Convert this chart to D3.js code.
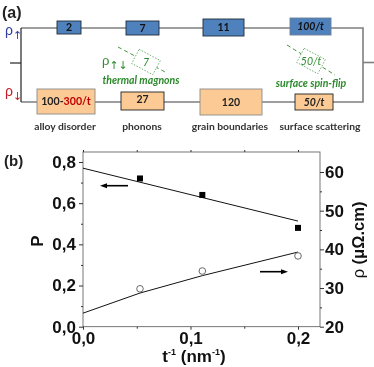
<!DOCTYPE html>
<html><head><meta charset="utf-8">
<script src="https://cdnjs.cloudflare.com/ajax/libs/d3/7.8.5/d3.min.js"></script>
<style>html,body{margin:0;padding:0;background:#fff}svg{display:block;filter:blur(0.3px)}</style></head>
<body><svg id="c" width="374" height="367"></svg>
<script>
// --- values of panel (b)
const pointsX = [0.053, 0.111, 0.2];
const polarisation = [0.72, 0.64, 0.48];
const resistivity = [29.8, 34.4, 38.3];
const polFitX = [0, 0.2];
const polFit = [0.77, 0.513];
const resFitX = [0, 0.053, 0.111, 0.2];
const resFit = [23.5, 28.7, 33.2, 39.3];
const xTicks = [0, 0.1, 0.2];
const pTicks = [0, 0.2, 0.4, 0.6, 0.8];
const rhoTicks = [20, 30, 40, 50, 60];
// --- labels of panel (a)
const upLabels = ["2", "7", "11", "100/t"];
const downLabels = ["27", "120", "50/t"];
const mechanisms = ["alloy disorder", "phonons", "grain boundaries", "surface scattering"];

const svg = d3.select("#c");
const SANS = "'Liberation Sans',Arial,sans-serif", CAL = "Lato,'Open Sans',sans-serif";
const GREEN = "#2c8a2c";

// ========== panel (b)
const x = d3.scaleLinear().domain([0, 0.2]).range([83, 298]);
const yP = d3.scaleLinear().domain([0, 0.8]).range([326.7, 162]);
const yR = d3.scaleLinear().domain([20, 60]).range([326.7, 172]);
const L = 83, R = 320, T = 152, B = 326.7;
svg.append("rect").attr("x", L).attr("y", T).attr("width", R - L).attr("height", B - T)
  .attr("fill", "none").attr("stroke", "#555").attr("stroke-width", 0.8);

const g = svg.append("g");
function ax(gen, tr) {
  const a = g.append("g").attr("transform", tr).call(gen);
  a.select(".domain").remove();
  a.selectAll("line").attr("stroke", "#333");
  a.selectAll("text").attr("font-family", SANS).attr("font-weight", 700).attr("font-size", 17).attr("fill", "#111");
  return a;
}
const comma = d => d.toFixed(1).replace(".", ",");
const xa = ax(d3.axisBottom(x).tickValues(xTicks).tickFormat(comma).tickSize(3).tickPadding(2), `translate(0,${B})`);
xa.selectAll("text").attr("dy", "0.72em");
ax(d3.axisBottom(x).tickValues([0.05, 0.15]).tickFormat("").tickSize(2), `translate(0,${B})`);
ax(d3.axisTop(x).tickValues([0, 0.05, 0.1, 0.15, 0.2]).tickFormat("").tickSize(2), `translate(0,${T})`);
ax(d3.axisLeft(yP).tickValues(pTicks).tickFormat(comma).tickSize(4).tickPadding(3), `translate(${L},0)`);
ax(d3.axisLeft(yP).tickValues([0.1, 0.3, 0.5, 0.7]).tickFormat("").tickSize(2), `translate(${L},0)`);
ax(d3.axisRight(yR).tickValues(rhoTicks).tickSize(4).tickPadding(1), `translate(${R},0)`);
ax(d3.axisRight(yR).tickValues([25, 35, 45, 55]).tickFormat("").tickSize(2), `translate(${R},0)`);

const line = (xs, ys, sc) => d3.line().x((d, i) => x(xs[i])).y(d => sc(d))(ys);
svg.append("path").attr("d", line(polFitX, polFit, yP)).attr("fill", "none").attr("stroke", "#111").attr("stroke-width", 1);
svg.append("path").attr("d", line(resFitX, resFit, yR)).attr("fill", "none").attr("stroke", "#111").attr("stroke-width", 1);
svg.selectAll(".sq").data(polarisation).join("rect")
  .attr("x", (d, i) => x(pointsX[i]) - 3).attr("y", d => yP(d) - 3).attr("width", 6).attr("height", 6).attr("fill", "#000");
svg.selectAll(".ci").data(resistivity).join("circle")
  .attr("cx", (d, i) => x(pointsX[i])).attr("cy", d => yR(d)).attr("r", 3.3)
  .attr("fill", "#fff").attr("stroke", "#444").attr("stroke-width", 0.8);

// arrows
function arrow(x1, x2, y) {
  const s = Math.sign(x2 - x1);
  svg.append("line").attr("x1", x1).attr("x2", x2 - s * 4).attr("y1", y).attr("y2", y).attr("stroke", "#000").attr("stroke-width", 1.6);
  svg.append("path").attr("d", `M${x2},${y}l${-s * 7},-2.5v5z`).attr("fill", "#000");
}
arrow(128, 100, 185.7);
arrow(260, 288, 271.7);

const t = (s, xp, yp, o = {}) => svg.append("text").attr("x", xp).attr("y", yp)
  .attr("text-anchor", o.a || "middle").attr("font-family", o.f || CAL).attr("font-weight", o.w || 700)
  .attr("font-style", o.i ? "italic" : "normal").attr("font-size", o.s || 9).attr("fill", o.c || "#222")
  .attr("transform", o.r ? `rotate(${o.r} ${xp} ${yp})` : null).text(s);

t("(a)", 2, 18, { a: "start", f: SANS, s: 16, c: "#222" });
t("(b)", 4, 166, { a: "start", f: SANS, s: 15, c: "#222" });
t("P", 43, 241, { f: SANS, s: 17, r: -90, c: "#111" });

const xl = svg.append("text").attr("x", 194).attr("y", 362).attr("text-anchor", "middle")
  .attr("font-family", SANS).attr("font-weight", 700).attr("font-size", 17).attr("fill", "#111");
xl.append("tspan").text("t");
xl.append("tspan").attr("font-size", 9).attr("dy", -7).text("-1");
xl.append("tspan").attr("dy", 7).text(" (nm");
xl.append("tspan").attr("font-size", 9).attr("dy", -7).text("-1");
xl.append("tspan").attr("dy", 7).text(")");

const yl = svg.append("text").attr("transform", "translate(364,240) rotate(-90)").attr("text-anchor", "middle")
  .attr("font-family", SANS).attr("font-size", 16.5).attr("fill", "#111");
yl.append("tspan").text("ρ ");
yl.append("tspan").attr("font-weight", 700).text("(μΩ.cm)");

// ========== panel (a)
const WIRE = "#7f7f7f";
const wire = (pts, w = 1.6, c = WIRE) => svg.append("path").attr("d", d3.line()(pts)).attr("fill", "none").attr("stroke", c).attr("stroke-width", w);
wire([[21, 28], [363, 28], [363, 102], [21, 102]]);
wire([[21, 28], [21, 102]], 1.2, "#222");
wire([[10, 63], [21, 63]], 1.2, "#222");
wire([[363, 62.5], [374, 62.5]]);

const upBoxes = [[57, 81, 21, 34], [126, 159, 21, 35], [203, 244, 19, 36], [290, 331, 18, 35]];
const downBoxes = [[121, 164, 92, 110], [200, 262, 89, 115], [295, 333, 94, 110]];

upLabels.forEach((s, i) => {
  const b = upBoxes[i];
  svg.append("rect").attr("x", b[0]).attr("y", b[2]).attr("width", b[1] - b[0]).attr("height", b[3] - b[2])
    .attr("fill", "#4f81bd").attr("stroke", i == 3 ? "#6a7f96" : "#1f2a38").attr("stroke-width", 0.9);
  t(s, (b[0] + b[1]) / 2, (b[2] + b[3]) / 2 + 3.5, { s: 10.5, i: i == 3, c: "#111" });
});
svg.append("rect").attr("x", 37).attr("y", 89).attr("width", 58).attr("height", 25)
  .attr("fill", "#fcca94").attr("stroke", "#8a8a8a").attr("stroke-width", 0.9);
const a1 = t("", 66, 105, { s: 10.6, c: "#222" });
a1.append("tspan").text("100-");
a1.append("tspan").attr("fill", "#c00000").text("300/t");
downLabels.forEach((s, i) => {
  const b = downBoxes[i];
  svg.append("rect").attr("x", b[0]).attr("y", b[2]).attr("width", b[1] - b[0]).attr("height", b[3] - b[2])
    .attr("fill", "#fcca94").attr("stroke", i == 1 ? "#8a8a8a" : "#222").attr("stroke-width", 0.9);
  t(s, (b[0] + b[1]) / 2, (b[2] + b[3]) / 2 + (i == 0 ? 1.5 : 3.5), { s: 10.5, i: i == 2, c: "#222" });
});
[65, 142, 230, 320].forEach((cx, i) => t(mechanisms[i], cx, 130, { s: 10.3, c: "#333" }));

// spin-mixing resistors
function mix(cx, cy, label, x1, y1, x2, y2, ang) {
  wire([[x1, y1], [x2, y2]], 0.9, GREEN).attr("stroke-dasharray", "4 3");
  svg.append("rect").attr("x", cx - 12).attr("y", cy - 8).attr("width", 24).attr("height", 16)
    .attr("transform", `rotate(${ang} ${cx} ${cy})`).attr("fill", "#fff")
    .attr("stroke", GREEN).attr("stroke-width", 0.6).attr("stroke-dasharray", "1.5 1.5");
  t(label, cx, cy + 3.5, { s: 10.5, i: true, c: GREEN, w: 400 });
}
mix(146, 62, "7", 118, 47, 167, 73, 28);
mix(311, 61, "50/t", 287, 45, 335, 75, 28);
t("thermal magnons", 141, 84, { s: 10.5, i: true, c: GREEN });
t("surface spin-flip", 311, 87, { s: 10.5, i: true, c: GREEN });

// rho labels
function rho(xp, yp, sub, c, s = 14) {
  const e = t("", xp, yp, { a: "start", s, c, w: 400, f: SANS });
  e.append("tspan").text("ρ");
  e.append("tspan").attr("font-size", 11).attr("font-family", "'DejaVu Sans',sans-serif").attr("dy", 4).text(sub);
}
rho(5, 35, "↑", "#2f3f9e");
rho(5, 96, "↓", "#c01f2a");
rho(102, 65, "↑↓", GREEN, 13);
</script></body></html>
